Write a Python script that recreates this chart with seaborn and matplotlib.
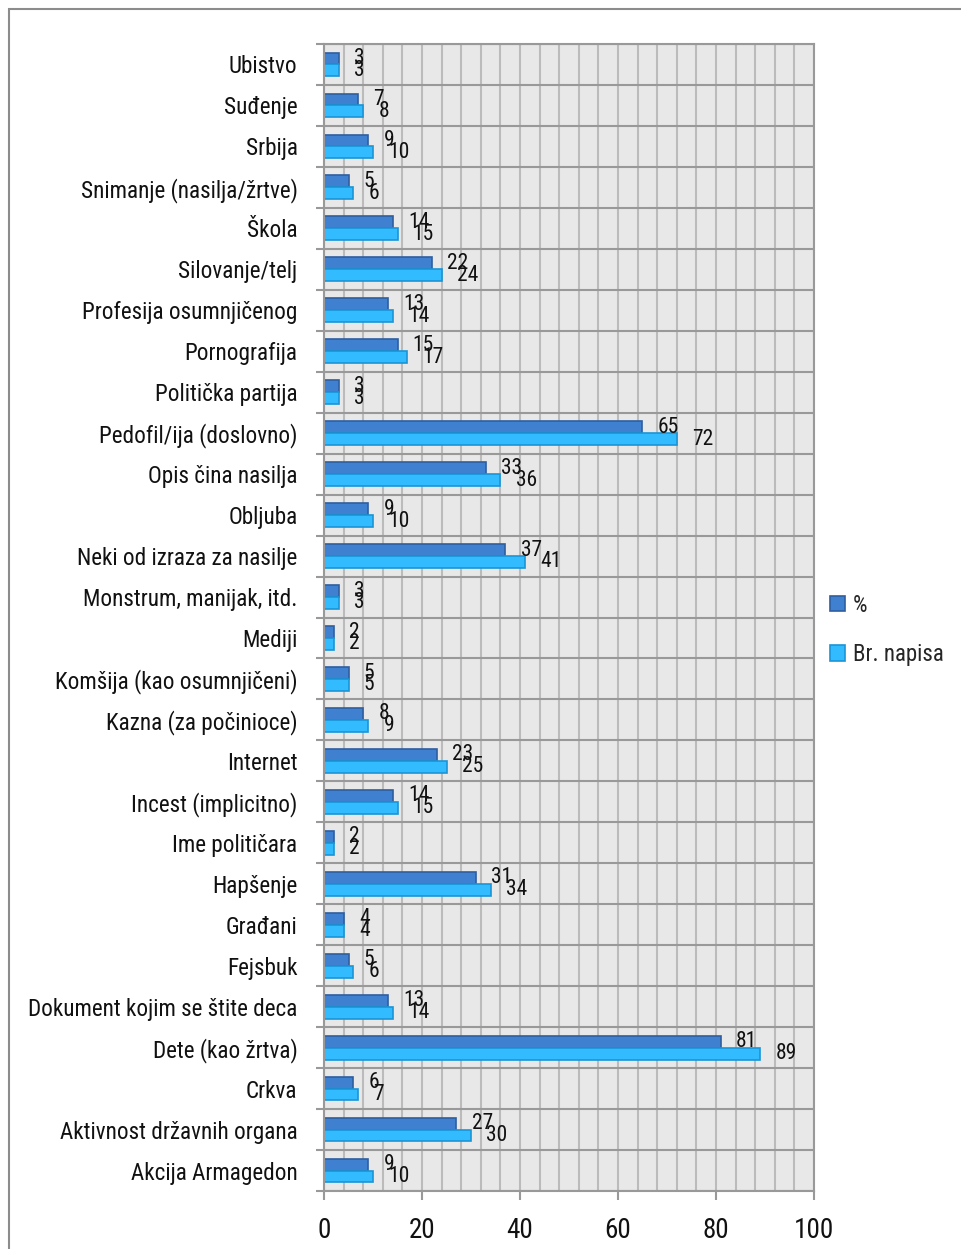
import numpy as np
import pandas as pd
import matplotlib.pyplot as plt
import matplotlib.ticker as mticker
from matplotlib.patches import Rectangle
import seaborn as sns

# --- podaci (odozgo nadole) ---
kategorije = [
    "Ubistvo", "Suđenje", "Srbija", "Snimanje (nasilja/žrtve)", "Škola",
    "Silovanje/telj", "Profesija osumnjičenog", "Pornografija",
    "Politička partija", "Pedofil/ija (doslovno)", "Opis čina nasilja",
    "Obljuba", "Neki od izraza za nasilje", "Monstrum, manijak, itd.",
    "Mediji", "Komšija (kao osumnjičeni)", "Kazna (za počinioce)",
    "Internet", "Incest (implicitno)", "Ime političara", "Hapšenje",
    "Građani", "Fejsbuk", "Dokument kojim se štite deca", "Dete (kao žrtva)",
    "Crkva", "Aktivnost državnih organa", "Akcija Armagedon",
]
procenat = [3, 7, 9, 5, 14, 22, 13, 15, 3, 65, 33, 9, 37, 3, 2, 5, 8, 23,
            14, 2, 31, 4, 5, 13, 81, 6, 27, 9]
br_napisa = [3, 8, 10, 6, 15, 24, 14, 17, 3, 72, 36, 10, 41, 3, 2, 5, 9, 25,
             15, 2, 34, 4, 6, 14, 89, 7, 30, 10]
serije = ["%", "Br. napisa"]

df = pd.DataFrame({
    "kategorija": kategorije * 2,
    "serija": [serije[0]] * len(kategorije) + [serije[1]] * len(kategorije),
    "vrednost": procenat + br_napisa,
})

sns.set_theme(style="white")
plt.rcParams["font.family"] = ["DejaVu Sans Condensed", "Roboto Condensed",
                               "Liberation Sans Narrow", "Roboto"]

W, H = 962, 1249
fig = plt.figure(figsize=(W / 100, H / 100), dpi=100)
ax = fig.add_axes([324 / W, 1 - 1191 / H, 490 / W, 1147 / H])
ax.set_facecolor("#E8E8E8")

sns.barplot(data=df, y="kategorija", x="vrednost", hue="serija", orient="h",
            palette=["#4080D0", "#33BBFF"], saturation=1, width=0.58, gap=0,
            ax=ax)

for cont, ec in zip(ax.containers, ["#2F5F9F", "#1A95D5"]):
    for p in cont:
        p.set_edgecolor(ec)
        p.set_linewidth(1.2)
    ax.bar_label(cont, padding=11, fontsize=15.5, color="#111111")

handles, labels = ax.get_legend_handles_labels()
ax.get_legend().remove()
leg = fig.legend(handles, labels, loc="center left",
                 bbox_to_anchor=(830 / W, 1 - 630 / H), frameon=False,
                 fontsize=16.5, handlelength=0.65, handleheight=0.65,
                 handletextpad=0.35, labelspacing=1.15, borderpad=0,
                 borderaxespad=0)
for h, ec in zip(leg.legend_handles, ["#2F5F9F", "#1A95D5"]):
    h.set_edgecolor(ec)
    h.set_linewidth(1.2)

ax.set_xlim(0, 100)
ax.xaxis.set_major_locator(mticker.MultipleLocator(20))
ax.xaxis.set_minor_locator(mticker.MultipleLocator(4))
ax.yaxis.set_minor_locator(mticker.FixedLocator(np.arange(-0.5, len(kategorije), 1)))
ax.set_xlabel("")
ax.set_ylabel("")

ax.grid(which="both", axis="x", color="#BBBBBB", lw=1.5)
ax.grid(which="minor", axis="y", color="#999999", lw=1.5)
ax.set_axisbelow(True)

ax.tick_params(axis="y", which="major", left=True, length=0, pad=19,
               labelsize=16.7, labelcolor="#111111")
ax.tick_params(axis="y", which="minor", left=True, length=6, width=1.5,
               color="#999999")
ax.tick_params(axis="x", which="major", bottom=True, length=6.5, width=1.5,
               color="#999999", pad=12, labelsize=19.5, labelcolor="#111111")
ax.tick_params(axis="x", which="minor", bottom=False, length=0)

for s in ax.spines.values():
    s.set_color("#999999")
    s.set_linewidth(1.5)

# okvir oko grafikona
fig.add_artist(Rectangle((9 / W, -0.1), 1.2, 1.1 - 9 / H,
                         transform=fig.transFigure, fill=False,
                         edgecolor="#8C8C8C", linewidth=1.5))

fig.savefig("out.png", dpi=100)
